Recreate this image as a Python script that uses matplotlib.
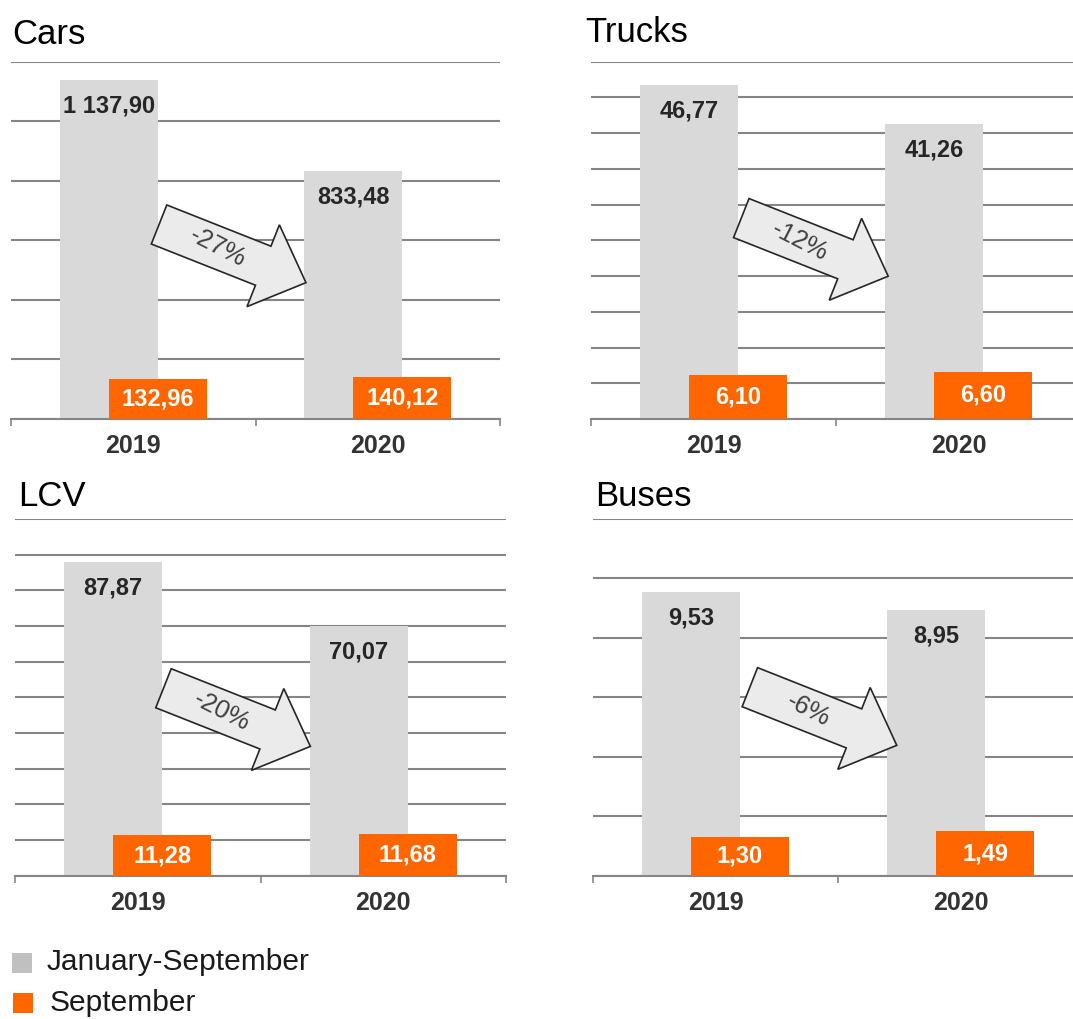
import numpy as np
import matplotlib
matplotlib.use("Agg")
import matplotlib.pyplot as plt
from matplotlib.patches import Polygon, Rectangle
from matplotlib.transforms import Affine2D, ScaledTranslation

plt.rcParams['font.family'] = ['Liberation Sans', 'DejaVu Sans']

# data
years = ['2019', '2020']
cars_jan_sep = [1137.90, 833.48]
cars_sep = [132.96, 140.12]
trucks_jan_sep = [46.77, 41.26]
trucks_sep = [6.10, 6.60]
lcv_jan_sep = [87.87, 70.07]
lcv_sep = [11.28, 11.68]
buses_jan_sep = [9.53, 8.95]
buses_sep = [1.30, 1.49]
titles = ['Cars', 'Trucks', 'LCV', 'Buses']
changes = ['-27%', '-12%', '-20%', '-6%']
legend_labels = ['January-September', 'September']

GRAY = '#d9d9d9'
ORANGE = '#ff6600'
GRID = '#858585'

W, H = 1073, 1019
fig = plt.figure(figsize=(W / 100, H / 100), dpi=100)


def fmt(v):
    return f"{v:,.2f}".replace(",", " ").replace(".", ",")


# (left, top, right, bottom) in pixels, y max, grid step, arrow centre, title pos
panels = [
    (cars_jan_sep, cars_sep, (11, 61.7, 500, 419), 1200, 200, (0.453, 0.463), (12.7, 34)),
    (trucks_jan_sep, trucks_sep, (591.3, 61.7, 1081.3, 419), 50, 5, (0.456, 0.481), (585.3, 33)),
    (lcv_jan_sep, lcv_sep, (15, 519, 506, 875.7), 100, 10, (0.452, 0.444), (18.3, 496.7)),
    (buses_jan_sep, buses_sep, (593, 519, 1083, 875.7), 12, 2, (0.47, 0.447), (594.7, 496.7)),
]

x = np.arange(len(years))
for i, (js, sp, box, ymax, step, acen, tpos) in enumerate(panels):
    l, t, r, b = box
    ax = fig.add_axes([l / W, 1 - b / H, (r - l) / W, (b - t) / H])
    ax.bar(x - 0.1, js, width=0.4, color=GRAY, zorder=2)
    ax.bar(x + 0.1, sp, width=0.4, color=ORANGE, zorder=3)
    for xi, v in zip(x, js):
        ax.annotate(fmt(v), (xi - 0.1, v), xytext=(0, -26), textcoords='offset pixels',
                    ha='center', va='center', fontsize=17, fontweight='bold',
                    color='#262626', zorder=4)
    for xi, v in zip(x, sp):
        ax.text(xi + 0.1, v / 2, fmt(v), ha='center', va='center', fontsize=17,
                fontweight='bold', color='white', zorder=4)

    ax.set_xlim(-0.5, 1.5)
    ax.set_ylim(0, ymax)
    ax.set_yticks(np.arange(0, ymax + step / 2, step))
    ax.grid(axis='y', color=GRID, linewidth=1.5)
    ax.set_axisbelow(True)
    ax.tick_params(axis='y', length=0, labelleft=False)
    for s in ['left', 'right', 'top']:
        ax.spines[s].set_visible(False)
    ax.spines['bottom'].set_color(GRID)
    ax.spines['bottom'].set_linewidth(1.5)
    ax.set_xticks(x)
    ax.set_xticklabels(years, fontsize=18, fontweight='bold', color='#333333')
    ax.set_xticks([-0.5, 0.5, 1.5], minor=True)
    ax.tick_params(axis='x', which='major', length=0, pad=11)
    ax.tick_params(axis='x', which='minor', length=5, width=1.2, color=GRID, direction='out')

    # block arrow with the change
    tr = Affine2D().rotate_deg(-21.6) + ScaledTranslation(acen[0], acen[1], ax.transAxes)
    verts = [(-79, -21), (33, -21), (33, -44), (79, 0), (33, 44), (33, 21), (-79, 21)]
    arrow = Polygon(verts, closed=True, facecolor='#ebebeb', edgecolor='#262626',
                    linewidth=1.2, transform=tr, zorder=5, clip_on=False)
    ax.add_artist(arrow)
    ax.text(-16, 0, changes[i], transform=tr, rotation=-27, rotation_mode='anchor',
            ha='center', va='center', fontsize=18.5, color='#404040', zorder=6)

    fig.text(tpos[0] / W, 1 - tpos[1] / H, titles[i], fontsize=25, color='black',
             ha='left', va='center')

# legend
for j, (lab, col, yc, tx) in enumerate([(legend_labels[0], '#c0c0c0', 962.5, 46.7),
                                        (legend_labels[1], ORANGE, 1003, 50)]):
    sq = 20
    fig.patches.append(Rectangle(((12 + j) / W, 1 - (yc + sq / 2) / H), sq / W, sq / H,
                                 transform=fig.transFigure, facecolor=col, edgecolor='none'))
    fig.text(tx / W, 1 - yc / H, lab, fontsize=21.5, color='#1a1a1a', ha='left', va='center')

fig.savefig('out.png', dpi=100)
